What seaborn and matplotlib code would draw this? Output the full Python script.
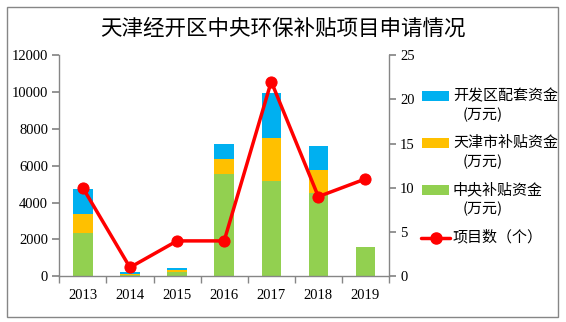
import numpy as np
import pandas as pd
import matplotlib
matplotlib.use("Agg")
import matplotlib.pyplot as plt
import seaborn as sns
from matplotlib.patches import Rectangle
from matplotlib.lines import Line2D

years = ["2013", "2014", "2015", "2016", "2017", "2018", "2019"]
central = [2370, 90, 250, 5550, 5170, 4500, 1590]
tianjin = [1030, 60, 110, 820, 2340, 1290, 0]
devzone = [1340, 90, 90, 810, 2410, 1280, 0]
projects = [10, 1, 4, 4, 22, 9, 11]

legend_names = ["开发区配套资金", "天津市补贴资金", "中央补贴资金", "项目数（个）"]
unit = "(万元)"
title = "天津经开区中央环保补贴项目申请情况"

sns.set_theme(style="white")
plt.rcParams['font.family'] = ['Noto Sans CJK SC', 'DejaVu Sans']

c_blue, c_orange, c_green, c_red = "#00B0F0", "#FFC000", "#92D050", "#FF0000"
W, H = 566, 322

df = pd.DataFrame({"year": years, "central": central, "tianjin": tianjin, "devzone": devzone})
df["s2"] = df["central"] + df["tianjin"]
df["s3"] = df["s2"] + df["devzone"]

fig = plt.figure(figsize=(W/100, H/100), dpi=100)
ax = fig.add_axes([59.3/W, 1-276.3/H, (389-59.3)/W, (276.3-55)/H])

for col, c in (("s3", c_blue), ("s2", c_orange), ("central", c_green)):
    sns.barplot(data=df, x="year", y=col, color=c, width=0.41, ax=ax,
                saturation=1, order=years, linewidth=0, edgecolor="none")

ax.set_ylim(0, 12000)
ax.set_xlim(-0.5, 6.5)
ax.set_yticks(range(0, 12001, 2000))
ax.set_xlabel("")
ax.set_ylabel("")

ax2 = ax.twinx()
sns.lineplot(x=np.arange(len(years)), y=projects, ax=ax2, color=c_red, lw=2.5,
             marker="o", markersize=8, markeredgecolor=c_red)
ax2.set_ylim(0, 25)
ax2.set_yticks(range(0, 26, 5))
ax2.set_xlim(-0.5, 6.5)
ax2.set_ylabel("")

serif = ['Liberation Serif', 'DejaVu Serif']
for a in (ax, ax2):
    a.spines["top"].set_visible(False)
    for s in ["left", "right", "bottom"]:
        a.spines[s].set_color("#868686")
        a.spines[s].set_linewidth(1)
ax.spines["right"].set_visible(False)
ax2.spines["left"].set_visible(False)
ax2.spines["bottom"].set_visible(False)

ax.set_xticks(range(len(years)))
ax.set_xticklabels(years)
ax.set_xticks(np.arange(-0.5, 7, 1), minor=True)
ax.tick_params(axis="x", which="major", length=0, pad=9)
ax.tick_params(axis="x", which="minor", length=5, color="#868686", direction="out", bottom=True)
ax.tick_params(axis="y", length=5, color="#868686", direction="out", left=True, pad=3)
ax2.tick_params(axis="y", length=5, color="#868686", direction="out", right=True, pad=3)
for lab in ax.get_xticklabels() + ax.get_yticklabels() + ax2.get_yticklabels():
    lab.set_fontfamily(serif)
    lab.set_fontsize(10.5)
    lab.set_color("black")
ax.grid(False)
ax2.grid(False)

fig.text(283/W, 1-28.3/H, title, ha="center", va="center", fontsize=15.5, color="black")

# legend (drawn manually to match layout: handle aligned with first text line)
rows = [96, 143, 190, 237.7]
colors = [c_blue, c_orange, c_green]
for i, name in enumerate(legend_names):
    y = rows[i]
    if i < 3:
        fig.add_artist(Rectangle((422/W, 1-(y+5)/H), 27/W, 10/H, transform=fig.transFigure,
                                 facecolor=colors[i], edgecolor="none"))
        fig.text(462.5/W, 1-(y+18.5)/H, unit, ha="left", va="center", fontsize=10.8, color="black")
    else:
        fig.add_artist(Line2D([421/W, 450/W], [1-y/H, 1-y/H], transform=fig.transFigure,
                              color=c_red, lw=2.5, marker=None))
        fig.add_artist(Line2D([435.5/W], [1-y/H], transform=fig.transFigure,
                              color=c_red, marker="o", markersize=8, lw=0))
    fig.text(453/W, 1-y/H, name, ha="left", va="center", fontsize=10.8, color="black")

fig.add_artist(Rectangle((7/W, 5/H), 551/W, 310/H, transform=fig.transFigure,
                         fill=False, edgecolor="#868686", lw=1))

fig.savefig("out.png", dpi=100)
